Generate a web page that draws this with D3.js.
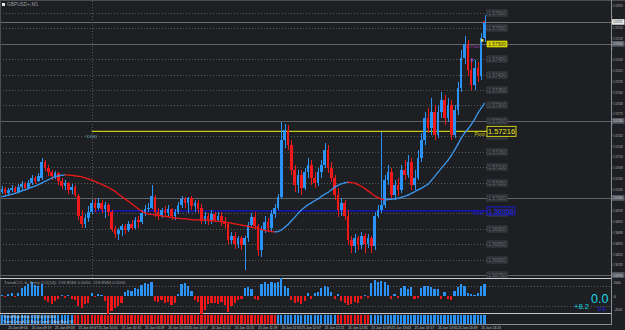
<!DOCTYPE html>
<html><head><meta charset="utf-8">
<script src="https://cdn.jsdelivr.net/npm/d3@7"></script>
<style>
html,body{margin:0;padding:0;background:#1d1f22;overflow:hidden;}
svg{display:block;}
text{font-family:"Liberation Sans",Arial,sans-serif;}
</style></head><body>
<svg id="c" width="625" height="330"></svg>
<script>
// ---------------- data ----------------
const opens=[1.57018,1.57028,1.57015,1.57025,1.57031,1.57018,1.57034,1.57044,1.57031,1.57047,
1.57064,1.57054,1.57064,1.57116,1.57096,1.57083,1.57070,1.57080,1.57054,1.57038,
1.57047,1.57025,1.57034,1.57005,1.56940,1.56914,1.56934,1.56953,1.56982,1.56969,
1.56982,1.56963,1.56976,1.56953,1.56898,1.56882,1.56895,1.56908,1.56895,1.56914,
1.56904,1.56927,1.56921,1.56950,1.56963,1.56969,1.57002,1.56953,1.56943,1.56960,
1.56950,1.56963,1.56940,1.56953,1.56976,1.56995,1.56982,1.56999,1.56973,1.56982,
1.56969,1.56924,1.56940,1.56927,1.56947,1.56930,1.56943,1.56924,1.56914,1.56862,
1.56878,1.56852,1.56869,1.56846,1.56869,1.56911,1.56937,1.56908,1.56830,1.56895,
1.56921,1.56901,1.56947,1.56966,1.57002,1.57187,1.57220,1.57171,1.57090,1.57041,
1.57073,1.57031,1.57083,1.57106,1.57064,1.57047,1.57083,1.57106,1.57155,1.57096,
1.57064,1.57008,1.56960,1.56982,1.56943,1.56862,1.56843,1.56869,1.56846,1.56875,
1.56852,1.56869,1.56843,1.56943,1.56960,1.56976,1.57057,1.57083,1.57008,1.57041,
1.57025,1.57090,1.57073,1.57116,1.57041,1.57064,1.57129,1.57187,1.57259,1.57226,
1.57278,1.57203,1.57278,1.57317,1.57259,1.57301,1.57203,1.57285,1.57356,1.57454,
1.57499,1.57415,1.57366,1.57421,1.57395,1.57519];
const highs=[1.57038,1.57034,1.57031,1.57041,1.57038,1.57044,1.57054,1.57051,1.57057,1.57073,
1.57070,1.57080,1.57129,1.57122,1.57106,1.57090,1.57086,1.57083,1.57064,1.57057,
1.57051,1.57044,1.57041,1.57012,1.56960,1.56947,1.56973,1.56992,1.56995,1.56999,
1.56992,1.56986,1.56982,1.56960,1.56908,1.56904,1.56917,1.56914,1.56924,1.56927,
1.56937,1.56940,1.56960,1.56976,1.56982,1.57041,1.57008,1.56966,1.56969,1.56973,
1.56976,1.56969,1.56963,1.56986,1.57005,1.57002,1.57002,1.57005,1.56992,1.56992,
1.56979,1.56953,1.56950,1.56960,1.56956,1.56956,1.56953,1.56937,1.56921,1.56891,
1.56888,1.56878,1.56875,1.56878,1.56921,1.56950,1.56953,1.56914,1.56908,1.56940,
1.56934,1.56960,1.56979,1.57012,1.57246,1.57239,1.57236,1.57187,1.57106,1.57090,
1.57090,1.57096,1.57129,1.57122,1.57083,1.57096,1.57122,1.57177,1.57171,1.57116,
1.57073,1.57031,1.56999,1.56992,1.56960,1.56878,1.56882,1.56878,1.56888,1.56885,
1.56882,1.56878,1.56953,1.56976,1.57213,1.57073,1.57106,1.57096,1.57057,1.57064,
1.57106,1.57122,1.57138,1.57129,1.57090,1.57155,1.57210,1.57278,1.57291,1.57324,
1.57301,1.57301,1.57343,1.57333,1.57324,1.57317,1.57301,1.57376,1.57480,1.57525,
1.57512,1.57454,1.57447,1.57441,1.57535,1.57593];
const lows=[1.57012,1.57008,1.57005,1.57018,1.57012,1.57015,1.57025,1.57025,1.57028,1.57041,
1.57044,1.57051,1.57057,1.57086,1.57070,1.57057,1.57060,1.57041,1.57028,1.57025,
1.57012,1.57012,1.57002,1.56930,1.56901,1.56904,1.56921,1.56947,1.56956,1.56960,
1.56950,1.56934,1.56943,1.56888,1.56869,1.56862,1.56878,1.56882,1.56888,1.56895,
1.56898,1.56904,1.56914,1.56940,1.56953,1.56963,1.56937,1.56927,1.56934,1.56937,
1.56940,1.56930,1.56927,1.56947,1.56966,1.56969,1.56950,1.56960,1.56953,1.56950,
1.56914,1.56914,1.56911,1.56917,1.56921,1.56924,1.56908,1.56901,1.56852,1.56849,
1.56836,1.56839,1.56830,1.56765,1.56856,1.56901,1.56898,1.56813,1.56807,1.56885,
1.56888,1.56891,1.56934,1.56960,1.56995,1.57161,1.57155,1.57073,1.57018,1.57015,
1.57008,1.57025,1.57064,1.57041,1.57031,1.57038,1.57064,1.57096,1.57080,1.57051,
1.56992,1.56937,1.56943,1.56927,1.56846,1.56820,1.56823,1.56830,1.56833,1.56820,
1.56839,1.56823,1.56830,1.56934,1.56950,1.56966,1.57041,1.56992,1.56992,1.57005,
1.57015,1.57057,1.57064,1.57025,1.57025,1.57057,1.57116,1.57171,1.57210,1.57203,
1.57187,1.57194,1.57259,1.57236,1.57246,1.57187,1.57194,1.57268,1.57343,1.57434,
1.57395,1.57350,1.57350,1.57376,1.57382,1.57506];
const closes=[1.57028,1.57015,1.57025,1.57031,1.57018,1.57034,1.57044,1.57031,1.57047,1.57064,
1.57054,1.57070,1.57116,1.57096,1.57083,1.57070,1.57080,1.57054,1.57038,1.57047,
1.57025,1.57034,1.57008,1.56940,1.56914,1.56934,1.56953,1.56982,1.56969,1.56982,
1.56963,1.56976,1.56953,1.56898,1.56882,1.56895,1.56908,1.56895,1.56914,1.56904,
1.56927,1.56921,1.56950,1.56963,1.56969,1.57005,1.56953,1.56943,1.56960,1.56950,
1.56963,1.56940,1.56953,1.56976,1.56995,1.56982,1.56999,1.56973,1.56982,1.56963,
1.56924,1.56940,1.56927,1.56947,1.56930,1.56943,1.56924,1.56914,1.56862,1.56878,
1.56852,1.56869,1.56846,1.56869,1.56911,1.56937,1.56908,1.56830,1.56895,1.56921,
1.56901,1.56947,1.56966,1.57002,1.57187,1.57220,1.57171,1.57090,1.57041,1.57073,
1.57031,1.57083,1.57106,1.57064,1.57047,1.57083,1.57106,1.57155,1.57096,1.57064,
1.57008,1.56960,1.56982,1.56943,1.56862,1.56843,1.56869,1.56846,1.56875,1.56852,
1.56869,1.56843,1.56943,1.56960,1.56976,1.57057,1.57083,1.57008,1.57041,1.57025,
1.57090,1.57073,1.57116,1.57041,1.57064,1.57129,1.57187,1.57259,1.57226,1.57278,
1.57203,1.57278,1.57317,1.57259,1.57301,1.57203,1.57285,1.57356,1.57454,1.57499,
1.57415,1.57366,1.57421,1.57395,1.57519,1.57571];
const maValues=[1.57004,1.57006,1.57009,1.57012,1.57015,1.57018,1.57023,1.57026,1.57030,1.57035,
1.57038,1.57043,1.57048,1.57054,1.57059,1.57064,1.57069,1.57072,1.57073,1.57075,
1.57074,1.57073,1.57072,1.57070,1.57069,1.57065,1.57062,1.57058,1.57054,1.57049,
1.57044,1.57039,1.57034,1.57028,1.57022,1.57013,1.57005,1.56997,1.56989,1.56981,
1.56973,1.56965,1.56957,1.56952,1.56948,1.56947,1.56945,1.56944,1.56942,1.56940,
1.56939,1.56937,1.56935,1.56934,1.56933,1.56932,1.56931,1.56930,1.56929,1.56929,
1.56928,1.56928,1.56927,1.56926,1.56925,1.56924,1.56923,1.56921,1.56920,1.56918,
1.56916,1.56914,1.56912,1.56910,1.56908,1.56905,1.56903,1.56901,1.56898,1.56895,
1.56893,1.56891,1.56890,1.56891,1.56896,1.56905,1.56914,1.56926,1.56937,1.56950,
1.56961,1.56970,1.56978,1.56984,1.56991,1.56997,1.57005,1.57012,1.57018,1.57026,
1.57035,1.57041,1.57046,1.57049,1.57051,1.57050,1.57048,1.57043,1.57038,1.57031,
1.57023,1.57015,1.57007,1.57001,1.56996,1.56994,1.56995,1.56996,1.56997,1.56999,
1.57002,1.57005,1.57009,1.57015,1.57020,1.57026,1.57031,1.57038,1.57044,1.57056,
1.57069,1.57083,1.57096,1.57109,1.57122,1.57137,1.57155,1.57174,1.57194,1.57210,
1.57223,1.57238,1.57255,1.57275,1.57291,1.57307];
const cciValues=[20,-15,30,40,-20,50, 120,150,180,200,160,140, 170, -60,-90,-120,-80,
-40,20,-30,15,-50,-60, -150,-170,-120,-100, 40,-20,30, 20,-80,-260, -220,-180,-140,-110,
60,90, 80,120,100, 160,190,170, 210, -70,-90,-60, -110,-90,-130,-100,30, 170,190,150,80,
-60,-90, -260,-200,-120, -100,-110,-120,-90,-130,-240,-150, -110,-60,-40,120, 130,110,-40,-60,
170,200,180,210,190,200, 260, 150,120, -60,-100,-90, -120,-80,40, -40,50,60, 120,150,130,60,
-40,30, -80,-110,-130,-120,-90,-100, -40,20,-30, 190,230, 200,220,210,160, -40,30,-30,
120,150,110,130,-40, -30,120,140, 150,130,100,110, -40,60,-50, -60,70,130, 180,150,40,
30,20,40, 150,170];
const trendValues=[1,1,1,1,1,1,1,1,1,1,1,1,1,1,1,1,1,1,1,1,1,1,
-1,-1,-1,-1,-1,-1,-1,-1,-1,-1,-1,-1,-1,-1,-1,-1,-1,-1,-1,-1,-1,-1,-1,-1,-1,-1,-1,-1,-1,-1,
-1,-1,-1,-1,-1,-1,-1,-1,-1,-1,-1,-1,-1,-1,-1,-1,-1,-1,-1,-1,-1,-1,-1,-1,-1,-1,-1,-1,-1,-1,-1,
1,1,1,1,1,1,1,1,1,1,1,1,1,1,1,1,1,1,
-1,-1,-1,-1,-1,-1,-1,-1,-1,-1,
1,1,1,1,1,1,1,1,1,1,1,1,1,1,1,1,1,1,1,1,1,1,1,1,1,1,1,1,1,1,1,1,1,1,1];
const priceTicks=[1.57623,1.57588,1.57553,1.57518,1.57483,1.57448,1.57413,1.57378,1.57343,1.57308,
1.57273,1.57238,1.57203,1.57168,1.57133,1.57098,1.57063,1.57028,1.56993,1.56958,1.56923,
1.56888,1.56853,1.56818,1.56783,1.56748];
const levelPrices=[1.5760,1.5755,1.5750,1.5745,1.5740,1.5735,1.5730,1.5725,1.5720,1.5715,1.5710,
1.5705,1.5700,1.5695,1.5690,1.5685,1.5680,1.5675];
const roundLevels=[1.5750,1.5725,1.5700,1.5675];
const bidPrice=1.57571;
const pivotPrice=1.57216, lowPivotPrice=1.56958, todayBar=27;
const timeLabels=["25 Jun 09:05","25 Jun 09:19","25 Jun 09:33","25 Jun 09:47","25 Jun 10:01","25 Jun 10:15",
"25 Jun 10:29","25 Jun 10:43","25 Jun 10:57","25 Jun 11:11","25 Jun 11:25","25 Jun 11:39","25 Jun 11:53",
"25 Jun 12:07","25 Jun 12:21","25 Jun 12:35","25 Jun 12:49","25 Jun 13:03","25 Jun 13:17","25 Jun 13:31",
"25 Jun 13:49","25 Jun 14:23"];
const timeLabelBars=[2,9,16,23,29,36,43,50,56,63,70,77,84,90,97,104,111,117,124,131,137,144];
const cciTicks=[200,0,-200];

// ---------------- layout ----------------
const svg=d3.select("#c");
const W=625,H=330,AX=611;
const BULL="#2a93f5",BEAR="#f01818";
svg.append("rect").attr("width",W).attr("height",H).attr("fill","#1d1f22");

const x=d3.scaleLinear().domain([0,145]).range([1.7,484.5]);
const y=d3.scaleLinear().domain([1.567403,1.576422]).range([278,0]);
const yC=d3.scaleLinear().domain([-250,250]).range([313,279]);

const main=svg.append("g");
main.selectAll(".lvl").data(levelPrices).join("line")
 .attr("x1",0).attr("x2",487).attr("y1",d=>Math.round(y(d))+0.5).attr("y2",d=>Math.round(y(d))+0.5)
 .attr("stroke","#55585d").attr("stroke-width",1).attr("stroke-dasharray","1,2");
main.selectAll(".rl").data(roundLevels).join("line")
 .attr("x1",0).attr("x2",AX).attr("y1",d=>Math.round(y(d))+0.5).attr("y2",d=>Math.round(y(d))+0.5)
 .attr("stroke","#5f6267").attr("stroke-width",1);
main.append("line").attr("x1",0).attr("x2",AX).attr("y1",Math.round(y(bidPrice))+0.5).attr("y2",Math.round(y(bidPrice))+0.5)
 .attr("stroke","#6c6f74");
main.append("line").attr("x1",Math.round(x(todayBar))+0.5).attr("x2",Math.round(x(todayBar))+0.5).attr("y1",1).attr("y2",278)
 .attr("stroke","#55585d").attr("stroke-dasharray","1,2");
main.append("text").attr("x",x(todayBar)).attr("y",y(pivotPrice)+6.5).attr("text-anchor","middle")
 .attr("font-size",4.8).attr("fill","#5f8a8a").text("today");
main.append("line").attr("x1",x(todayBar)).attr("x2",487).attr("y1",y(pivotPrice)).attr("y2",y(pivotPrice))
 .attr("stroke","#c9c817").attr("stroke-width",1.3);
main.append("line").attr("x1",x(todayBar)).attr("x2",487).attr("y1",y(lowPivotPrice)).attr("y2",y(lowPivotPrice))
 .attr("stroke","#1010d8").attr("stroke-width",1.1);

// candles
const idx=d3.range(closes.length);
const cg=main.append("g").attr("shape-rendering","crispEdges");
cg.selectAll(".wick").data(idx).join("rect")
 .attr("x",i=>Math.round(x(i))-0.5).attr("width",1)
 .attr("y",i=>y(highs[i])).attr("height",i=>Math.max(1,y(lows[i])-y(highs[i])))
 .attr("fill",i=>closes[i]>=opens[i]?BULL:BEAR);
cg.selectAll(".body").data(idx).join("rect")
 .attr("x",i=>x(i)-1.3).attr("width",2.6)
 .attr("y",i=>y(Math.max(opens[i],closes[i])))
 .attr("height",i=>Math.max(1,Math.abs(y(opens[i])-y(closes[i]))))
 .attr("fill",i=>closes[i]>=opens[i]?BULL:BEAR);

// MA line coloured by direction
let dir=1;
const segs=[];
for(let i=1;i<maValues.length;i++){
  if(maValues[i]>maValues[i-1]) dir=1; else if(maValues[i]<maValues[i-1]) dir=-1;
  segs.push({i,dir});
}
main.selectAll(".ma").data(segs).join("line")
 .attr("x1",d=>x(d.i-1)).attr("x2",d=>x(d.i)).attr("y1",d=>y(maValues[d.i-1])).attr("y2",d=>y(maValues[d.i]))
 .attr("stroke",d=>d.dir>0?"#3a95ea":"#e41a1a").attr("stroke-width",1.3).attr("stroke-linecap","round");

// level label boxes (those under the pivot boxes are hidden by them)
const hidden=[1.5720,1.5695];
const lb=main.selectAll(".lb").data(levelPrices).join("g")
 .attr("transform",d=>`translate(487,${Math.round(y(d))})`);
lb.append("rect").attr("x",0).attr("y",-3).attr("width",20).attr("height",6)
 .attr("fill",d=>d===1.5750?"#d8d400":"#26282c").attr("stroke",d=>d===1.5750?"#d8d400":"#4b4e53").attr("stroke-width",0.7);
lb.filter(d=>!hidden.includes(d)).append("text").attr("x",10).attr("y",1.7).attr("text-anchor","middle").attr("font-size",4.8)
 .attr("fill",d=>d===1.5750?"#333":"#6d7075").text(d=>d.toFixed(5));

// pivot boxes
const pv=main.append("g").attr("transform",`translate(487,${y(pivotPrice)})`);
pv.append("rect").attr("x",0).attr("y",-5).attr("width",29).attr("height",10).attr("fill","#1d1f22").attr("stroke","#e0df1a").attr("stroke-width",0.9);
pv.append("text").attr("x",14.5).attr("y",3).attr("text-anchor","middle").attr("font-size",7.5).attr("fill","#ecea1c").text(pivotPrice.toFixed(5));
main.append("text").attr("x",474.5).attr("y",y(pivotPrice)+5).attr("font-size",4.6).attr("fill","#c9c817").text("Pivot");
const lp=main.append("g").attr("transform",`translate(487,${y(lowPivotPrice)})`);
lp.append("rect").attr("x",0).attr("y",-4).attr("width",28).attr("height",8).attr("fill","#1d1f22").attr("stroke","#1c1ce0").attr("stroke-width",0.9);
lp.append("text").attr("x",14).attr("y",2.6).attr("text-anchor","middle").attr("font-size",7).attr("fill","#2a2aff").text(lowPivotPrice.toFixed(5));
main.append("text").attr("x",473).attr("y",y(lowPivotPrice)+4).attr("font-size",4.6).attr("fill","#1c1ce0").text("Pivot");

// small markers near last bar
main.append("text").attr("x",465).attr("y",y(1.5750)+4.5).attr("font-size",4).attr("fill","#a23bb0").text("1.57500");
main.append("rect").attr("x",481).attr("y",y(1.57512)-1).attr("width",2.5).attr("height",2.5).attr("fill","#e8e070");
main.append("rect").attr("x",483).attr("y",y(1.57571)-1).attr("width",2).attr("height",1.5).attr("fill","#e01010");
main.append("circle").attr("cx",472).attr("cy",y(1.57447)).attr("r",1.2).attr("fill","none").attr("stroke","#6f6fff").attr("stroke-width",0.8);

// title
svg.append("rect").attr("x",2).attr("y",3).attr("width",3).attr("height",3).attr("fill","#e8e8e8");
svg.append("text").attr("x",7).attr("y",6.3).attr("font-size",4.8).attr("fill","#9a9ca0").text("GBPUSD+,M1");

// frames
svg.append("line").attr("x1",0).attr("x2",W).attr("y1",0.5).attr("y2",0.5).attr("stroke","#4a4d52");
svg.append("line").attr("x1",0.5).attr("x2",0.5).attr("y1",0).attr("y2",325).attr("stroke","#4a4d52");
svg.append("line").attr("x1",AX+0.5).attr("x2",AX+0.5).attr("y1",0).attr("y2",325).attr("stroke","#8a8c90");
svg.append("line").attr("x1",0).attr("x2",AX).attr("y1",278.5).attr("y2",278.5).attr("stroke","#c9c9c9");
svg.append("line").attr("x1",0).attr("x2",AX).attr("y1",313.5).attr("y2",313.5).attr("stroke","#c9c9c9");
svg.append("line").attr("x1",0).attr("x2",AX).attr("y1",324.5).attr("y2",324.5).attr("stroke","#8a8c90");

// right price axis (labels horizontally condensed to fit the narrow strip)
const boxed=roundLevels.concat([bidPrice]);
const ax=svg.append("g");
ax.selectAll(".pt").data(priceTicks).join("g").attr("transform",d=>`translate(${AX},${y(d)})`)
 .call(g=>{g.append("line").attr("x1",0).attr("x2",1.5).attr("stroke","#8a8c90");
           g.filter(d=>boxed.every(b=>Math.abs(y(b)-y(d))>5.5)).append("text").attr("transform","translate(2.3,1.5) scale(0.6,1)")
            .attr("font-size",4.3).attr("fill","#b8babd").text(d=>d.toFixed(5));});
ax.selectAll(".rb").data(roundLevels).join("g").attr("transform",d=>`translate(${AX+1},${y(d)})`)
 .call(g=>{g.append("rect").attr("x",0).attr("y",-2.8).attr("width",12.5).attr("height",5.6).attr("fill","#5b6068");
           g.append("text").attr("transform","translate(1.2,1.5) scale(0.6,1)").attr("font-size",4.3)
            .attr("fill","#d8d8d8").text(d=>d.toFixed(5));});
const bb=ax.append("g").attr("transform",`translate(${AX+1},${y(bidPrice)})`);
bb.append("rect").attr("x",0).attr("y",-2.8).attr("width",12.5).attr("height",5.6).attr("fill","#e8e8e8");
bb.append("text").attr("transform","translate(1.2,1.5) scale(0.6,1)").attr("font-size",4.3)
 .attr("fill","#111").text(bidPrice.toFixed(5));

// CCI subpanel
const sub=svg.append("g");
sub.selectAll(".cl").data([150,-150]).join("line").attr("x1",0).attr("x2",AX)
 .attr("y1",d=>Math.round(yC(d))+0.5).attr("y2",d=>Math.round(yC(d))+0.5).attr("stroke","#55585d").attr("stroke-dasharray","1,2");
sub.append("g").attr("shape-rendering","crispEdges").selectAll("rect").data(idx).join("rect")
 .attr("x",i=>x(i)-1.1).attr("width",2.2)
 .attr("y",i=>cciValues[i]>=0?yC(cciValues[i]):yC(0)).attr("height",i=>Math.abs(yC(cciValues[i])-yC(0)))
 .attr("fill",i=>cciValues[i]>=0?BULL:BEAR);
sub.append("text").attr("x",4).attr("y",284).attr("font-size",4.3).attr("fill","#9a9ca0")
 .text("TrendCCI, b, Entry CCI(14): 219.8584 0.0000 -219.8584 0.0000");
sub.selectAll(".ct").data(cciTicks).join("text").attr("x",AX+2.5).attr("y",d=>yC(d)+1.5).attr("font-size",4.3).attr("fill","#b8babd").text(d=>d);
sub.append("text").attr("x",574).attr("y",309).attr("font-size",7.5).attr("fill","#18d8e8").text("+8.2");
sub.append("text").attr("x",591).attr("y",303).attr("font-size",12.5).attr("fill","#18d8e8").text("0.0");
sub.append("text").attr("x",598).attr("y",311).attr("font-size",5.5).attr("fill","#2222ff").text("0.0");

// trend strip
svg.append("g").attr("shape-rendering","crispEdges").selectAll("rect").data(idx).join("rect")
 .attr("x",i=>x(i)-1.1).attr("width",2.2).attr("y",315).attr("height",9)
 .attr("fill",i=>trendValues[i]>0?BULL:BEAR);
svg.append("text").attr("x",3).attr("y",318).attr("font-size",3.7).attr("fill","#d0d0d0").text("TrendStrip  Entry CCI(14)  0.0000");
svg.append("text").attr("x",3).attr("y",322.5).attr("font-size",3.7).attr("fill","#d0d0d0").text("Trend Length  14  Entry Level 0  Avg Bars 50");

// time axis
svg.selectAll(".tl").data(timeLabels).join("text")
 .attr("x",(d,k)=>x(timeLabelBars[k])).attr("y",329).attr("font-size",3.4).attr("fill","#c0c2c5").text(d=>d);
</script>
</body></html>
